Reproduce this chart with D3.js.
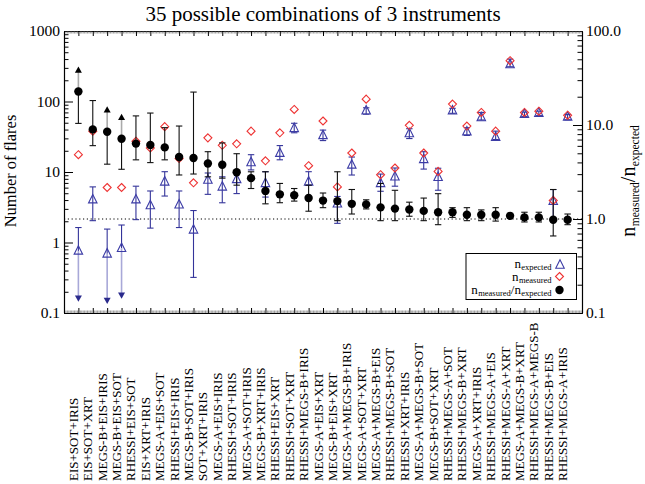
<!DOCTYPE html>
<html><head><meta charset="utf-8">
<script src="https://cdn.jsdelivr.net/npm/d3@7"></script>
<style>
body{margin:0;background:#fff}
svg{display:block}
</style>
</head><body>
<svg id="c" width="645" height="484"></svg>
<script>
// ---------------- data ----------------
const categories = ["EIS+SOT+IRIS","EIS+SOT+XRT","MEGS-B+EIS+IRIS","MEGS-B+EIS+SOT","RHESSI+EIS+SOT",
"EIS+XRT+IRIS","MEGS-A+EIS+SOT","RHESSI+EIS+IRIS","MEGS-B+SOT+IRIS","SOT+XRT+IRIS",
"MEGS-A+EIS+IRIS","RHESSI+SOT+IRIS","MEGS-A+SOT+IRIS","MEGS-B+XRT+IRIS","RHESSI+EIS+XRT",
"RHESSI+SOT+XRT","RHESSI+MEGS-B+IRIS","MEGS-A+EIS+XRT","MEGS-B+EIS+XRT","MEGS-A+MEGS-B+IRIS",
"MEGS-A+SOT+XRT","MEGS-A+MEGS-B+EIS","RHESSI+MEGS-B+SOT","RHESSI+XRT+IRIS","MEGS-A+MEGS-B+SOT",
"MEGS-B+SOT+XRT","RHESSI+MEGS-A+SOT","RHESSI+MEGS-B+XRT","MEGS-A+XRT+IRIS","RHESSI+MEGS-A+EIS",
"RHESSI+MEGS-A+XRT","MEGS-A+MEGS-B+XRT","RHESSI+MEGS-A+MEGS-B","RHESSI+MEGS-B+EIS","RHESSI+MEGS-A+IRIS"];

const nExpected = [0.76,4.05,0.69,0.83,4.05,3.35,7.25,3.43,1.51,7.7,6.15,7.85,13.6,6.9,18.5,41.6,7.25,33.0,3.55,12.6,
73.8,6.9,8.55,35.2,15.1,8.4,73.8,37.3,59.3,31.2,335,66.1,68.4,3.86,60.4];
const expLo = [0.164,2.04,0.152,0.18,2.11,1.60,4.56,1.63,0.32,4.82,3.66,4.94,10.7,4.41,14.9,36.0,6.5,27.9,1.87,9.06,
66.1,5.33,6.29,29.8,11.0,5.51,68,33.0,54.7,28.9,311,61,63,2.04,55];
const expHi = [1.63,6.15,1.55,1.77,6.29,5.38,10.1,5.38,2.84,9.68,8.55,10.3,17.6,10.1,23.7,49.1,10.1,39.3,4.5,16.3,
81.4,9.35,11.4,41.1,19.4,11.3,80,42.5,70.0,38.0,399,71,73,5.64,65.5];
const expArrowIdx = [0,2,3];   // lower limits drawn as arrows

const nMeasured = [17.6,38.0,6.03,6.03,27.3,21.9,44.0,15.6,7.02,30.5,23.9,25.1,38.0,14.4,36.0,77.2,12.3,52.9,6.15,18.6,
108,9.15,11.4,45.9,18.6,10.2,92.0,44.9,70.0,38.0,379,70.0,72.9,3.95,64.0];

const ratio = [22.7,8.98,8.48,7.13,6.34,6.14,5.78,4.56,4.45,3.89,3.77,3.14,2.72,1.99,1.83,1.79,1.67,1.57,1.55,1.45,
1.43,1.33,1.29,1.26,1.22,1.18,1.18,1.11,1.11,1.11,1.08,1.04,1.04,0.98,0.98];
const ratioLo = [10.4,6.03,3.83,3.38,4.26,3.98,4.26,2.94,3.01,2.81,2.72,2.29,2.11,1.45,1.49,1.55,1.21,1.32,0.96,1.13,
1.28,0.96,0.96,1.07,0.96,0.87,1.04,0.96,0.96,0.95,1.02,0.93,0.93,0.66,0.87];
const ratioHi = [38.2,18.2,14.4,12.0,12.5,13.4,9.37,9.75,22.4,5.20,6.45,4.95,3.18,3.18,2.39,2.11,2.29,1.89,3.18,2.06,
1.60,2.39,2.02,1.51,1.67,1.86,1.32,1.32,1.25,1.32,1.15,1.18,1.18,2.06,1.13];
const ratioArrowIdx = [0,2,3]; // upper limits drawn as arrows

const leftTicks = [0.1,1,10,100,1000];
const leftTickLabels = ["0.1","1","10","100","1000"];
const rightTicks = [0.1,1,10,100];
const rightTickLabels = ["0.1","1.0","10.0","100.0"];

// ---------------- layout ----------------
const FONT = '"Liberation Serif", "Times New Roman", serif';
const m = {l:64, r:582, t:31, b:313};
const svg = d3.select("#c").style("font-family",FONT);
const x = d3.scaleLinear().domain([-1,35]).range([m.l,m.r]);
const yL = d3.scaleLog().domain([0.1,1000]).range([m.b,m.t]);
const yR = d3.scaleLog().domain([0.1,100]).range([m.b,m.t]);

const BLUE="#3c3ca6", BLUEBAR="#34349a", RED="#ee3333";

function T(sel){return sel.style("font-family",FONT).attr("fill","#000");}

// title
T(svg.append("text")).attr("x",323).attr("y",20.5).attr("text-anchor","middle")
  .style("font-size","21px").text("35 possible combinations of 3 instruments");

function logMinors(lo,hi){const a=[];for(let d=lo;d<hi*0.99;d*=10){for(let k=2;k<=9;k++)a.push(d*k);}return a;}
const minorX = [];
for(let v=-1; v<35; v+=1){for(let k=1;k<10;k++) minorX.push(v+k/10);}

function styleAxis(g){
  g.selectAll("path.domain").attr("stroke","#000").attr("stroke-width",1.1);
  g.selectAll(".tick line").attr("stroke","#000");}

// left axis
const gl = svg.append("g").attr("transform",`translate(${m.l},0)`)
  .call(d3.axisLeft(yL).tickValues(leftTicks).tickFormat((d,i)=>leftTickLabels[i])
    .tickSizeInner(-9).tickSizeOuter(0).tickPadding(4));
styleAxis(gl);
T(gl.selectAll("text")).style("font-size","15.5px");
const glm = svg.append("g").attr("transform",`translate(${m.l},0)`)
  .call(d3.axisLeft(yL).tickValues(logMinors(0.1,1000)).tickFormat("").tickSizeInner(-4.5).tickSizeOuter(0));
styleAxis(glm);

// right axis
const gr = svg.append("g").attr("transform",`translate(${m.r},0)`)
  .call(d3.axisRight(yR).tickValues(rightTicks).tickFormat((d,i)=>rightTickLabels[i])
    .tickSizeInner(-9).tickSizeOuter(0).tickPadding(4));
styleAxis(gr);
T(gr.selectAll("text")).style("font-size","15.5px");
const grm = svg.append("g").attr("transform",`translate(${m.r},0)`)
  .call(d3.axisRight(yR).tickValues(logMinors(0.1,100)).tickFormat("").tickSizeInner(-4.5).tickSizeOuter(0));
styleAxis(grm);

// bottom / top axes
const idx = d3.range(categories.length);
[[m.b,d3.axisBottom],[m.t,d3.axisTop]].forEach(([yy,ax])=>{
  const g = svg.append("g").attr("transform",`translate(0,${yy})`)
    .call(ax(x).tickValues(idx).tickFormat("").tickSizeInner(-5).tickSizeOuter(0));
  styleAxis(g);
  const g2 = svg.append("g").attr("transform",`translate(0,${yy})`)
    .call(ax(x).tickValues(minorX).tickFormat("").tickSizeInner(-2.5).tickSizeOuter(0));
  styleAxis(g2);
  g2.selectAll(".tick line").attr("stroke","#555").attr("stroke-width",0.6);
});

// category labels
T(svg.append("g").selectAll("text").data(categories).join("text"))
  .attr("transform",(d,i)=>`translate(${x(i)-0.5},481) rotate(-90)`)
  .attr("text-anchor","start").style("font-size","13px").text(d=>d);

// axis titles
T(svg.append("text")).attr("transform","translate(15.5,171) rotate(-90)").attr("text-anchor","middle")
  .style("font-size","16.5px").text("Number of flares");
const rt = T(svg.append("text")).attr("transform","translate(635,181) rotate(-90)").attr("text-anchor","middle")
  .style("font-size","20px");
rt.append("tspan").text("n");
rt.append("tspan").attr("dy",4).attr("dx",0.5).style("font-size","11.5px").text("measured");
rt.append("tspan").attr("dy",-4).text("/n");
rt.append("tspan").attr("dy",4).attr("dx",0.5).style("font-size","11.5px").text("expected");

// dotted line at ratio = 1
svg.append("line").attr("x1",m.l).attr("x2",m.r).attr("y1",yR(1)).attr("y2",yR(1))
  .attr("stroke","#000").attr("stroke-width",1).attr("stroke-dasharray","1.2,2.6");

// shapes
const tri = (cx,cy,s)=>`M${cx},${cy-s*0.62}L${cx+s/2},${cy+s*0.38}L${cx-s/2},${cy+s*0.38}Z`;
const triDown = (cx,cy,s)=>`M${cx},${cy+s*0.55}L${cx+s/2},${cy-s*0.35}L${cx-s/2},${cy-s*0.35}Z`;
const triUp = (cx,cy,s)=>`M${cx},${cy-s*0.55}L${cx+s/2},${cy+s*0.35}L${cx-s/2},${cy+s*0.35}Z`;
const dia = (cx,cy,s)=>`M${cx},${cy-s/2}L${cx+s/2},${cy}L${cx},${cy+s/2}L${cx-s/2},${cy}Z`;
const CAP = 3.2;

function errBars(g, y, vals, lo, hi, arrowIdx, col, lightCol, isUpperArrow){
  idx.forEach(i=>{
    const cx = x(i);
    const arrow = arrowIdx.includes(i);
    const yv = y(vals[i]), ylo = y(lo[i]), yhi = y(hi[i]);
    if(!arrow){
      g.append("line").attr("x1",cx).attr("x2",cx).attr("y1",ylo).attr("y2",yhi).attr("stroke",col);
      g.append("line").attr("x1",cx-CAP).attr("x2",cx+CAP).attr("y1",ylo).attr("y2",ylo).attr("stroke",col);
      g.append("line").attr("x1",cx-CAP).attr("x2",cx+CAP).attr("y1",yhi).attr("y2",yhi).attr("stroke",col);
    } else if(isUpperArrow){
      g.append("line").attr("x1",cx).attr("x2",cx).attr("y1",yv).attr("y2",ylo).attr("stroke",col);
      g.append("line").attr("x1",cx-CAP).attr("x2",cx+CAP).attr("y1",ylo).attr("y2",ylo).attr("stroke",col);
      g.append("line").attr("x1",cx).attr("x2",cx).attr("y1",yv).attr("y2",yhi).attr("stroke",lightCol).attr("stroke-width",1.6);
      g.append("path").attr("d",triUp(cx,yhi,7)).attr("fill","#000");
    } else {
      g.append("line").attr("x1",cx).attr("x2",cx).attr("y1",yv).attr("y2",yhi).attr("stroke",col);
      g.append("line").attr("x1",cx-CAP).attr("x2",cx+CAP).attr("y1",yhi).attr("y2",yhi).attr("stroke",col);
      g.append("line").attr("x1",cx).attr("x2",cx).attr("y1",yv).attr("y2",ylo).attr("stroke",lightCol).attr("stroke-width",1.6);
      g.append("path").attr("d",triDown(cx,ylo,7)).attr("fill","#2a2a8c");
    }
  });
}

// expected (blue)
const gE = svg.append("g").attr("stroke-width",1.1);
errBars(gE, yL, nExpected, expLo, expHi, expArrowIdx, BLUEBAR, "#a8a8d8", false);
gE.selectAll("path.m").data(nExpected).join("path").attr("class","m")
  .attr("d",(d,i)=>tri(x(i),yL(d),8.5)).attr("fill","none").attr("stroke",BLUE).attr("stroke-width",1.1);

// measured (red)
svg.append("g").selectAll("path").data(nMeasured).join("path")
  .attr("d",(d,i)=>dia(x(i),yL(d),8)).attr("fill","none").attr("stroke",RED).attr("stroke-width",1.1);

// ratio (black)
const gR = svg.append("g").attr("stroke-width",1.1);
errBars(gR, yR, ratio, ratioLo, ratioHi, ratioArrowIdx, "#111", "#aaaaaa", true);
gR.selectAll("circle").data(ratio).join("circle")
  .attr("cx",(d,i)=>x(i)).attr("cy",d=>yR(d)).attr("r",4.2).attr("fill","#000");

// legend
const lg = svg.append("g");
lg.append("rect").attr("x",466).attr("y",253.5).attr("width",110.5).attr("height",46)
  .attr("fill","#fff").attr("stroke","#000").attr("stroke-width",1);
function legText(yb, parts){
  const t = T(lg.append("text")).attr("x",551.5).attr("y",yb).attr("text-anchor","end").style("font-size","13px");
  let shifted = false;
  parts.forEach(([s,sub])=>{
    const ts = t.append("tspan").text(s);
    if(sub){ts.style("font-size","8.5px").attr("dy",2.5).attr("dx",0.4); shifted = true;}
    else if(shifted){ts.attr("dy",-2.5); shifted = false;}
  });
}
legText(267.5,[["n"],["expected",true]]);
legText(280.5,[["n"],["measured",true]]);
legText(293.5,[["n"],["measured",true],["/n"],["expected",true]]);
lg.append("path").attr("d",tri(560,265,8.5)).attr("fill","none").attr("stroke",BLUE).attr("stroke-width",1.1);
lg.append("path").attr("d",dia(559.5,276.5,8)).attr("fill","none").attr("stroke",RED).attr("stroke-width",1.1);
lg.append("circle").attr("cx",559.5).attr("cy",290).attr("r",4.2).attr("fill","#000");
</script>
</body></html>
